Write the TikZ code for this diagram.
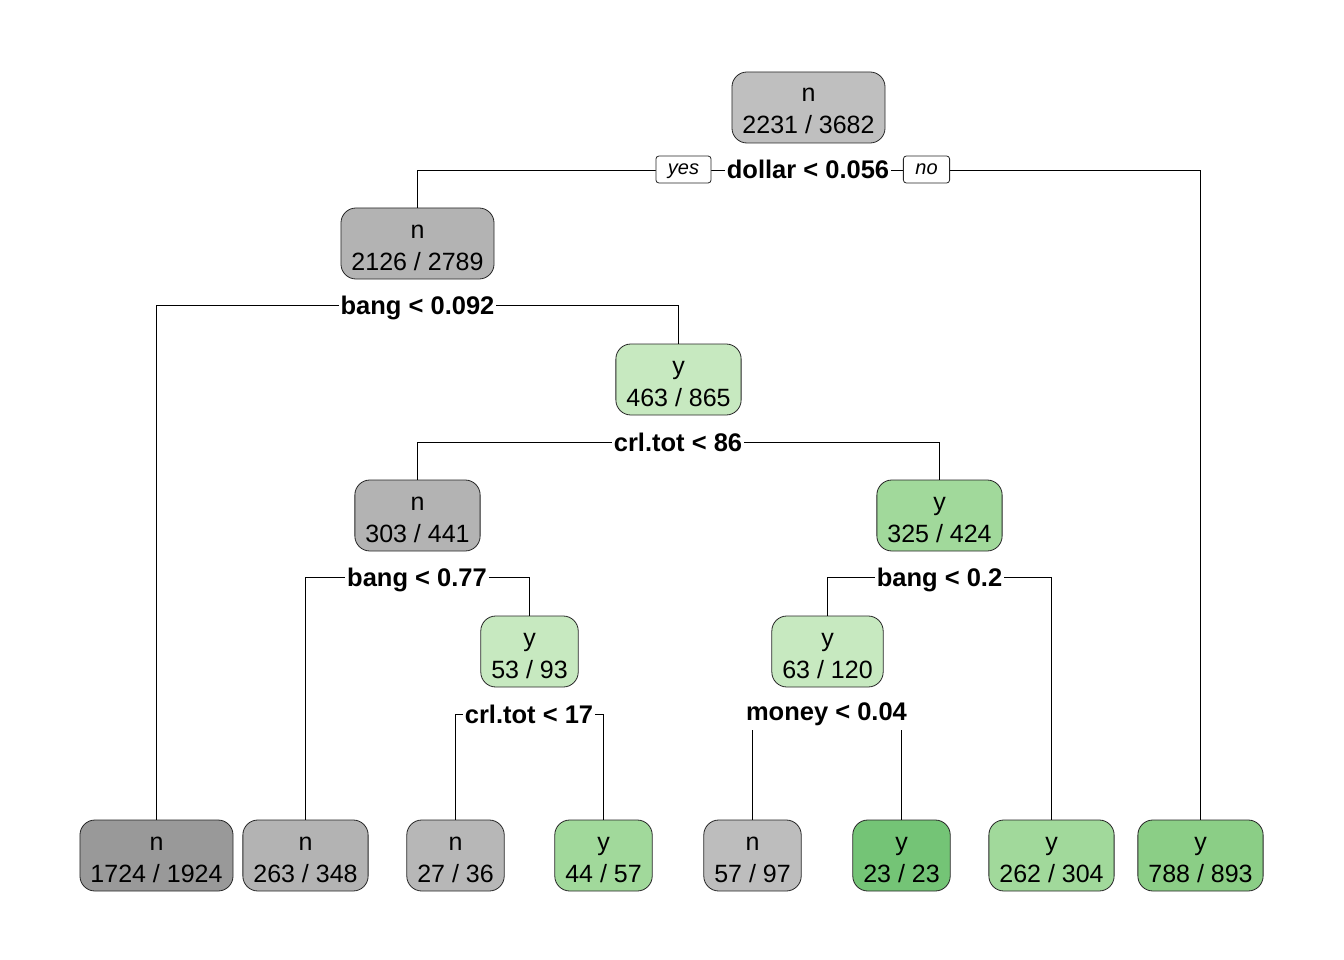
\documentclass[tikz,border=0pt]{standalone}
\usepackage{fontspec}
\setmainfont{Liberation Sans}
\definecolor{gA}{HTML}{BFBFBF}
\definecolor{gB}{HTML}{B3B3B3}
\definecolor{gC}{HTML}{999999}
\definecolor{gD}{HTML}{B7B7B7}
\definecolor{gE}{HTML}{BDBDBD}
\definecolor{vA}{HTML}{C7E9C0}
\definecolor{vB}{HTML}{A1D99B}
\definecolor{vC}{HTML}{74C476}
\definecolor{vD}{HTML}{8BCE86}
\begin{document}
\begin{tikzpicture}[x=1pt,y=-1pt,
  box/.style={draw=black!85, line width=0.8pt, rounded corners=15pt, align=center,
    font=\fontsize{25}{32}\selectfont, inner xsep=10.5pt, inner ysep=0pt,
    text height=62pt, text depth=9pt, anchor=center},
  splitlabel/.style={fill=white, font=\bfseries\fontsize{25.5}{30}\selectfont,
    inner xsep=2pt, inner ysep=5pt, text height=18pt, text depth=5.3pt, anchor=base},
  yesno/.style={draw=black!85, line width=0.8pt, rounded corners=3pt, fill=white,
    font=\itshape\fontsize{20}{24}\selectfont, inner xsep=12pt, inner ysep=8.3pt,
    text height=10.4pt, text depth=0pt, anchor=base},
  edge/.style={draw=black, line width=1pt}]
\useasboundingbox (0,0) rectangle (1344,960);

% internal nodes
\node[box, fill=gA] (root) at (808.5,107.5) {n\\2231 / 3682};
\node[box, fill=gB] (n2) at (417.5,243.5) {n\\2126 / 2789};
\node[box, fill=vA] (y463) at (678.5,379.5) {y\\463 / 865};
\node[box, fill=gB] (n303) at (417.5,515.5) {n\\303 / 441};
\node[box, fill=vB] (y325) at (939.5,515.5) {y\\325 / 424};
\node[box, fill=vA] (y53) at (529.5,651.5) {y\\53 / 93};
\node[box, fill=vA] (y63) at (827.5,651.5) {y\\63 / 120};

% leaves
\node[box, fill=gC] (l1) at (156.5,855.5) {n\\1724 / 1924};
\node[box, fill=gB] (l2) at (305.5,855.5) {n\\263 / 348};
\node[box, fill=gD] (l3) at (455.5,855.5) {n\\27 / 36};
\node[box, fill=vB] (l4) at (603.5,855.5) {y\\44 / 57};
\node[box, fill=gE] (l5) at (752.5,855.5) {n\\57 / 97};
\node[box, fill=vC] (l6) at (901.5,855.5) {y\\23 / 23};
\node[box, fill=vB] (l7) at (1051.5,855.5) {y\\262 / 304};
\node[box, fill=vD] (l8) at (1200.5,855.5) {y\\788 / 893};

% split points
\coordinate (s1) at (808.5,170.5);
\coordinate (s2) at (417.5,305.5);
\coordinate (s3) at (678.5,442.5);
\coordinate (s4) at (417.5,577.5);
\coordinate (s5) at (939.5,577.5);
\coordinate (s6) at (529.5,714.5);
\coordinate (s7) at (827.5,713.5);

% connectors
\draw[edge] (n2.north) |- (s1) -| (l8.north);
\draw[edge] (l1.north) |- (s2) -| (y463.north);
\draw[edge] (n303.north) |- (s3) -| (y325.north);
\draw[edge] (l2.north) |- (s4) -| (y53.north);
\draw[edge] (y63.north) |- (s5) -| (l7.north);
\draw[edge] (l3.north) |- (s6) -| (l4.north);
\draw[edge] (l5.north) |- (s7) -| (l6.north);

% split labels
\node[splitlabel] (t1) at (808,179) {dollar < 0.056};
\node[splitlabel] (t2) at (417.5,314) {bang < 0.092};
\node[splitlabel] (t3) at (678,451) {crl.tot < 86};
\node[splitlabel] (t4) at (417,586) {bang < 0.77};
\node[splitlabel] (t5) at (939.5,586) {bang < 0.2};
\node[splitlabel] (t6) at (529,723) {crl.tot < 17};
\node[splitlabel] (t7) at (826.5,720) {money < 0.04};

% yes / no
\node[yesno] (yes) at (683.5,174.7) {yes};
\node[yesno] (no) at (926.5,174.7) {no};
\end{tikzpicture}
\end{document}
